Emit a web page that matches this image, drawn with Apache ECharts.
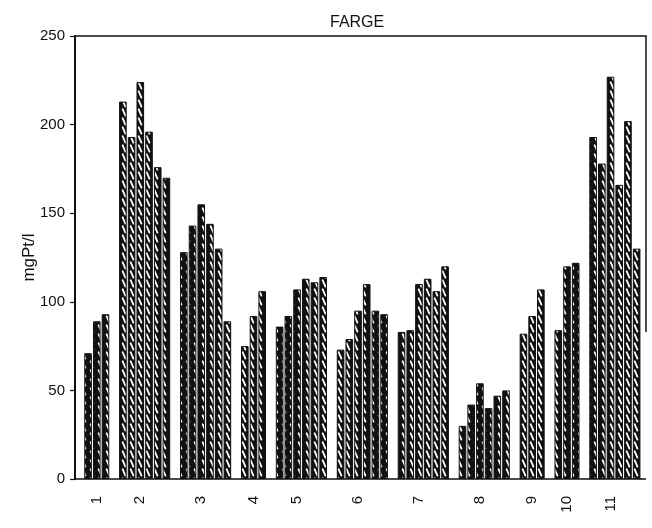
<!DOCTYPE html>
<html>
<head>
<meta charset="utf-8">
<script src="https://cdn.jsdelivr.net/npm/echarts@6/dist/echarts.min.js"></script>
<style>
html, body { margin: 0; padding: 0; background: #fff; }
#chart { width: 652px; height: 528px; }
</style>
</head>
<body>
<div id="chart"></div>
<script>
// one value per slot on the x axis, null = empty gap between stations
var slotValues = [
  null, 71, 89, 93,
  null, 213, 193, 224, 196, 176, 170,
  null, 128, 143, 155, 144, 130, 89,
  null, 75, 92, 106,
  null, 86, 92, 107, 113, 111, 114,
  null, 73, 79, 95, 110, 95, 93,
  null, 83, 84, 110, 113, 106, 120,
  null, 30, 42, 54, 40, 47, 50,
  null, 82, 92, 107,
  null, 84, 120, 122,
  null, 193, 178, 227, 166, 202, 130
];
var stationLabels = ['1', '2', '3', '4', '5', '6', '7', '8', '9', '10', '11'];
var labelSlots = [2, 7, 14, 20, 25, 32, 39, 46, 52, 56, 61];
var slotNames = slotValues.map(function (v, i) { return String(i); });

function hatchCanvas() {
  var c = document.createElement('canvas');
  c.width = 8; c.height = 9;
  var g = c.getContext('2d');
  g.fillStyle = '#111';
  g.fillRect(0, 0, 8, 9);
  g.strokeStyle = '#fff';
  g.lineWidth = 1.8;
  g.lineCap = 'round';
  g.beginPath();
  g.moveTo(2.6, 1.2);
  g.lineTo(5.4, 7.6);
  g.stroke();
  return c;
}

var chart = echarts.init(document.getElementById('chart'), null, { renderer: 'canvas' });
var font = 'Liberation Sans, Arial, sans-serif';

var option = {
  animation: false,
  backgroundColor: '#fff',
  title: {
    text: 'FARGE',
    left: 325,
    top: 10,
    textStyle: { fontFamily: font, fontSize: 16, fontWeight: 'normal', color: '#111' }
  },
  grid: { left: 75, top: 36, width: 566, bottom: 49 },
  xAxis: {
    type: 'category',
    data: slotNames,
    axisLine: { lineStyle: { color: '#111', width: 1.5 } },
    axisTick: { alignWithLabel: true, interval: 0, length: 6, lineStyle: { color: '#111', width: 1.2 } },
    axisLabel: {
      interval: 0,
      rotate: 90,
      margin: 17,
      fontFamily: font,
      fontSize: 15,
      color: '#111',
      formatter: function (v, i) {
        var j = labelSlots.indexOf(i);
        return j >= 0 ? stationLabels[j] : '';
      }
    }
  },
  yAxis: {
    type: 'value',
    min: 0,
    max: 250,
    interval: 50,
    name: 'mgPt/l',
    nameLocation: 'middle',
    nameGap: 37,
    nameMoveOverlap: false,
    nameTextStyle: { fontFamily: font, fontSize: 17, color: '#111' },
    splitLine: { show: false },
    axisLine: { show: true, lineStyle: { color: '#111', width: 2 } },
    axisTick: { show: true, length: 5, lineStyle: { color: '#111', width: 1.2 } },
    axisLabel: { margin: 10, fontFamily: font, fontSize: 15, color: '#111' }
  },
  graphic: [
    {
      type: 'polyline',
      shape: { points: [[75, 36], [646, 36], [646, 332]] },
      style: { stroke: '#111', lineWidth: 1.5, fill: null }
    },
    {
      type: 'line',
      shape: { x1: 641, y1: 479, x2: 646, y2: 479 },
      style: { stroke: '#111', lineWidth: 1.5 }
    }
  ],
  series: [{
    type: 'bar',
    data: slotValues,
    barWidth: 7.6,
    itemStyle: {
      color: { image: hatchCanvas(), repeat: 'repeat' },
      borderColor: '#111',
      borderWidth: 1
    }
  }]
};
chart.setOption(option);
</script>
</body>
</html>
